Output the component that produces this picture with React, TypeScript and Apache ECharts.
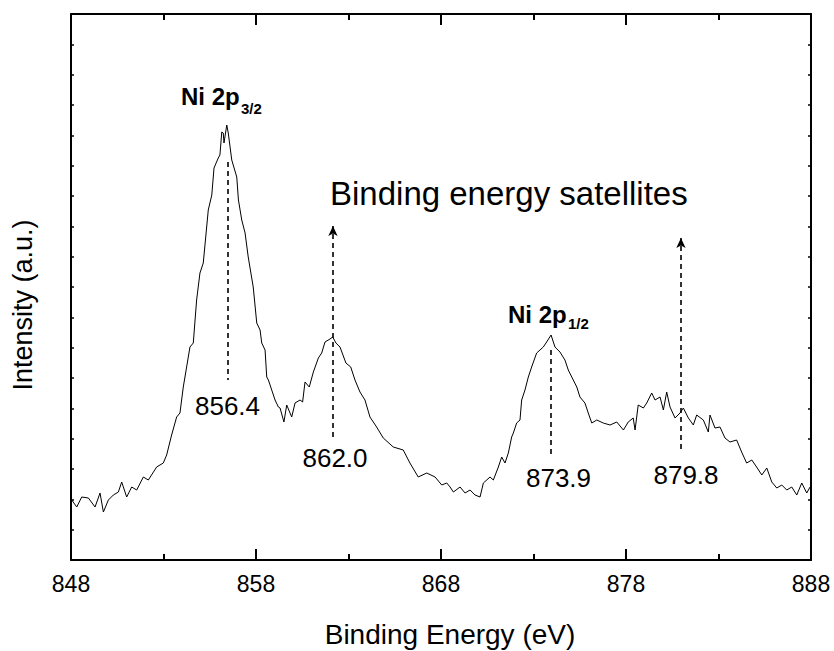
import React, { useEffect, useRef } from "react";
import * as echarts from "echarts";

// Binding energy (eV) and intensity (a.u.)
const energies = [
  848.04, 848.31, 848.58, 848.94, 849.3, 849.57, 849.75, 850.02, 850.29, 850.56,
  850.74, 851.01, 851.28, 851.55, 851.91, 852.18, 852.63, 852.99, 853.17, 853.44,
  853.71, 853.89, 854.07, 854.16, 854.43, 854.61, 854.79, 854.97, 855.15, 855.42,
  855.61, 855.73, 855.96, 856.05, 856.15, 856.23, 856.27, 856.42, 856.5, 856.69,
  856.96, 857.05, 857.23, 857.41, 857.58, 857.85, 858.04, 858.22, 858.31, 858.49,
  858.58, 858.67, 858.85, 859.03, 859.21, 859.3, 859.51, 859.66, 859.93, 860.11,
  860.38, 860.52, 860.65, 860.88, 861.1, 861.37, 861.55, 861.73, 862.0, 862.15,
  862.32, 862.54, 862.86, 863.12, 863.35, 863.62, 863.89, 864.16, 864.52, 864.88,
  865.42, 865.96, 866.32, 866.77, 867.23, 867.68, 868.04, 868.31, 868.49, 868.67,
  869.03, 869.3, 869.57, 869.84, 870.11, 870.29, 870.65, 870.83, 871.1, 871.28,
  871.46, 871.64, 871.82, 871.91, 872.09, 872.27, 872.36, 872.54, 872.72, 872.9,
  873.17, 873.35, 873.53, 873.71, 873.95, 874.16, 874.43, 874.7, 874.88, 875.15,
  875.34, 875.51, 875.78, 875.96, 876.15, 876.42, 876.77, 877.14, 877.5, 877.86,
  878.12, 878.39, 878.49, 878.66, 878.94, 879.12, 879.39, 879.57, 879.84, 880.02,
  880.2, 880.38, 880.65, 880.92, 881.1, 881.37, 881.64, 881.82, 882.18, 882.45,
  882.54, 882.81, 883.08, 883.35, 883.62, 883.98, 884.25, 884.52, 884.8, 885.06,
  885.34, 885.61, 885.88, 886.15, 886.42, 886.69, 886.96, 887.23, 887.5, 887.77,
  887.95,
];

const intensities = [
  60, 53, 63, 62, 53, 67, 48, 60, 65, 68,
  78, 63, 73, 70, 83, 80, 93, 97, 105, 125,
  143, 147, 173, 183, 213, 217, 260, 287, 297, 350,
  365, 392, 402, 405, 428, 427, 417, 435, 427, 400,
  383, 360, 340, 327, 303, 273, 237, 230, 217, 210,
  183, 180, 170, 160, 153, 152, 138, 155, 143, 157,
  160, 158, 178, 173, 188, 202, 207, 218, 221, 223,
  217, 213, 197, 193, 180, 168, 160, 143, 133, 122,
  113, 110, 97, 83, 87, 83, 75, 77, 73, 68,
  73, 67, 70, 65, 63, 77, 83, 80, 93, 103,
  97, 107, 123, 127, 137, 140, 160, 170, 183, 193,
  207, 210, 213, 218, 225, 213, 208, 200, 190, 180,
  173, 163, 157, 147, 137, 140, 137, 135, 138, 130,
  138, 142, 130, 155, 152, 157, 167, 160, 163, 150,
  168, 153, 142, 147, 152, 142, 135, 145, 140, 128,
  145, 132, 133, 122, 118, 120, 108, 97, 100, 93,
  85, 92, 78, 72, 75, 70, 73, 65, 77, 67,
  73,
];

// Annotation labels
const peakLabels = ["856.4", "862.0", "873.9", "879.8"];

const FONT = "'Liberation Sans', Arial, Helvetica, sans-serif";

export default function App() {
  const ref = useRef<HTMLDivElement>(null);

  useEffect(() => {
    if (!ref.current) return;
    const chart = echarts.init(ref.current, null, { renderer: "svg" });
    const data = energies.map((e, i) => [e, intensities[i]]);
    const dashed = { type: [5, 4] as any, color: "#000", width: 1.6 };
    const yMax = 546;
    const yInt = yMax / 18;

    const xAxisCommon = {
      type: "value" as const,
      min: 848,
      max: 888,
      interval: 10,
      splitLine: { show: false },
      axisLine: { show: true, onZero: false, lineStyle: { color: "#000", width: 2 } },
      axisTick: { show: true, inside: true, length: 11, lineStyle: { color: "#000", width: 2 } },
      minorTick: { show: true, splitNumber: 2, length: 6, lineStyle: { color: "#000", width: 2 } },
      minorSplitLine: { show: false },
    };
    const yAxisCommon = {
      type: "value" as const,
      min: 0,
      max: yMax,
      interval: yInt,
      splitLine: { show: false },
      axisLabel: { show: false },
      axisLine: { show: true, onZero: false, lineStyle: { color: "#000", width: 2 } },
      axisTick: { show: true, inside: true, length: 3, lineStyle: { color: "#000", width: 1.5 } },
    };

    chart.setOption({
      animation: false,
      backgroundColor: "#fff",
      grid: { left: 71, right: 23, top: 14, bottom: 91 },
      xAxis: [
        {
          ...xAxisCommon,
          position: "bottom",
          axisLabel: { show: true, margin: 12, fontSize: 23, color: "#000", fontFamily: FONT },
        },
        { ...xAxisCommon, position: "top", axisLabel: { show: false } },
      ],
      yAxis: [
        { ...yAxisCommon, position: "left" },
        { ...yAxisCommon, position: "right" },
      ],
      series: [
        {
          type: "line",
          data,
          showSymbol: false,
          symbol: "none",
          lineStyle: { color: "#000", width: 1 },
          z: 5,
          markLine: {
            silent: true,
            symbol: ["none", "none"],
            lineStyle: dashed,
            label: { show: false },
            data: [
              [
                { coord: [856.49, 398], symbol: "none" },
                { coord: [856.49, 180], symbol: "none" },
              ],
              [
                { coord: [862.16, 123], symbol: "none" },
                { coord: [862.16, 334], symbol: "arrow", symbolSize: [7, 10] },
              ],
              [
                { coord: [873.95, 210], symbol: "none" },
                { coord: [873.95, 103], symbol: "none" },
              ],
              [
                { coord: [880.97, 111], symbol: "none" },
                { coord: [880.97, 322], symbol: "arrow", symbolSize: [7, 10] },
              ],
            ],
          },
        },
      ],
      graphic: [
        // peak names
        { type: "text", x: 181, y: 96.5, style: { text: "Ni 2p", font: `bold 24px ${FONT}`, fill: "#000", textAlign: "left", textVerticalAlign: "middle" } },
        { type: "text", x: 241, y: 108, style: { text: "3/2", font: `bold 15px ${FONT}`, fill: "#000", textAlign: "left", textVerticalAlign: "middle" } },
        { type: "text", x: 508, y: 314, style: { text: "Ni 2p", font: `bold 24px ${FONT}`, fill: "#000", textAlign: "left", textVerticalAlign: "middle" } },
        { type: "text", x: 568, y: 323, style: { text: "1/2", font: `bold 15px ${FONT}`, fill: "#000", textAlign: "left", textVerticalAlign: "middle" } },
        // satellite title
        { type: "text", x: 330, y: 193, style: { text: "Binding energy satellites", font: `33px ${FONT}`, fill: "#000", textAlign: "left", textVerticalAlign: "middle" } },
        // peak values
        { type: "text", x: 227.5, y: 406, style: { text: peakLabels[0], font: `26px ${FONT}`, fill: "#000", textAlign: "center", textVerticalAlign: "middle" } },
        { type: "text", x: 335, y: 458, style: { text: peakLabels[1], font: `26px ${FONT}`, fill: "#000", textAlign: "center", textVerticalAlign: "middle" } },
        { type: "text", x: 558.5, y: 477.5, style: { text: peakLabels[2], font: `26px ${FONT}`, fill: "#000", textAlign: "center", textVerticalAlign: "middle" } },
        { type: "text", x: 686, y: 475, style: { text: peakLabels[3], font: `26px ${FONT}`, fill: "#000", textAlign: "center", textVerticalAlign: "middle" } },
        // axis titles
        { type: "text", x: 450, y: 634, style: { text: "Binding Energy (eV)", font: `28px ${FONT}`, fill: "#000", textAlign: "center", textVerticalAlign: "middle" } },
        { type: "text", x: 23, y: 305, rotation: Math.PI / 2, style: { text: "Intensity (a.u.)", font: `27px ${FONT}`, fill: "#000", textAlign: "center", textVerticalAlign: "middle" } },
      ],
    });

    return () => chart.dispose();
  }, []);

  return (
    <div
      ref={ref}
      style={{ position: "fixed", left: 0, top: 0, width: 834, height: 651, background: "#fff" }}
    />
  );
}
